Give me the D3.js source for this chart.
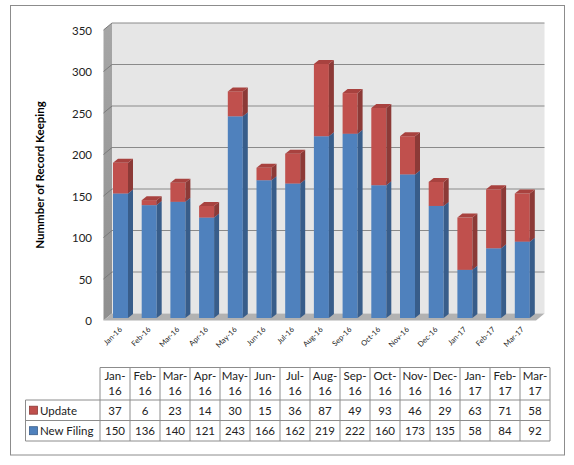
<!DOCTYPE html>
<html>
<head>
<meta charset="utf-8">
<script src="https://cdn.jsdelivr.net/npm/d3@7"></script>
<style>
  html, body { margin: 0; padding: 0; background: #fff; }
  svg { display: block; }
</style>
</head>
<body>
<div id="chart"></div>
<script>
(function () {
  'use strict';

  // ── Data ──────────────────────────────────────────────────────
  const months = ['Jan-16', 'Feb-16', 'Mar-16', 'Apr-16', 'May-16', 'Jun-16', 'Jul-16',
    'Aug-16', 'Sep-16', 'Oct-16', 'Nov-16', 'Dec-16', 'Jan-17', 'Feb-17', 'Mar-17'];
  const updateVals     = [37, 6, 23, 14, 30, 15, 36, 87, 49, 93, 46, 29, 63, 71, 58];
  const newFilingVals  = [150, 136, 140, 121, 243, 166, 162, 219, 222, 160, 173, 135, 58, 84, 92];
  const yTicks = [0, 50, 100, 150, 200, 250, 300, 350];
  const seriesNames = ['Update', 'New Filing'];

  // ── Palette ───────────────────────────────────────────────────
  const COLORS = {
    blue:  { front: '#4f81bd', side: '#385d8a', top: '#5b8cc6' },
    red:   { front: '#c0504d', side: '#8c3a37', top: '#a8423f' },
  };

  const W = 574, H = 465;
  const FONT = 'Lato, "Open Sans", sans-serif';

  const svg = d3.select('#chart').append('svg')
    .attr('width', W).attr('height', H);

  // outer frame
  svg.append('rect')
    .attr('x', 10.5).attr('y', 5.5).attr('width', 554).attr('height', 449.5)
    .attr('fill', '#fff').attr('stroke', '#8c8c8c').attr('stroke-width', 1);

  // ── Scales ────────────────────────────────────────────────────
  const DX = 8.5, DY = -7;                 // wall depth
  const BX = 5, BY = -4;                   // bar depth
  const frontL = 103.5, frontR = 536;
  const y = d3.scaleLinear().domain([0, 350]).range([320.5, 30]);
  const yBar = d3.scaleLinear().domain([0, 350]).range([318, 27.5]);
  const x = d3.scaleBand().domain(months).range([103, 533.5]);
  const barW = 15, barOff = 10;

  // ── Walls ─────────────────────────────────────────────────────
  const defs = svg.append('defs');
  const sg = defs.append('linearGradient').attr('id', 'sideGrad')
    .attr('x1', 0).attr('y1', 0).attr('x2', 0).attr('y2', 1);
  sg.append('stop').attr('offset', '0%').attr('stop-color', '#a6a6a6');
  sg.append('stop').attr('offset', '100%').attr('stop-color', '#8f8f8f');

  const wall = svg.append('g');
  // back wall
  wall.append('rect')
    .attr('x', frontL + DX).attr('y', y(350) + DY)
    .attr('width', frontR - frontL).attr('height', y(0) - y(350))
    .attr('fill', '#e6e6e6');
  // side wall
  wall.append('path')
    .attr('d', `M${frontL},${y(350)}L${frontL + DX},${y(350) + DY}L${frontL + DX},${y(0) + DY}L${frontL},${y(0)}Z`)
    .attr('fill', 'url(#sideGrad)');
  // floor
  wall.append('path')
    .attr('d', `M${frontL},${y(0)}L${frontR},${y(0)}L${frontR + DX},${y(0) + DY}L${frontL + DX},${y(0) + DY}Z`)
    .attr('fill', '#b2b2b2');

  // gridlines
  wall.selectAll('line.grid')
    .data(yTicks.filter(d => d > 0))
    .join('line')
    .attr('class', 'grid')
    .attr('x1', frontL + DX).attr('x2', frontR + DX)
    .attr('y1', d => y(d) + DY).attr('y2', d => y(d) + DY)
    .attr('stroke', '#8a8a8a').attr('stroke-width', 1);
  wall.selectAll('line.sgrid')
    .data(yTicks.filter(d => d > 0))
    .join('line')
    .attr('class', 'sgrid')
    .attr('x1', frontL).attr('x2', frontL + DX)
    .attr('y1', d => y(d)).attr('y2', d => y(d) + DY)
    .attr('stroke', '#7a7a7a').attr('stroke-width', 1);

  // ── Bars ──────────────────────────────────────────────────────
  const rows = months.map((m, i) => ({ month: m, newFiling: newFilingVals[i], update: updateVals[i] }));
  const stacked = d3.stack().keys(['newFiling', 'update'])(rows);
  const colorOf = { newFiling: COLORS.blue, update: COLORS.red };

  const bars = svg.append('g');
  months.forEach((m, i) => {
    const g = bars.append('g');
    stacked.forEach(s => {
      const c = colorOf[s.key];
      const seg = s[i];
      const x0 = x(m) + barOff, x1 = x0 + barW;
      const yt = yBar(seg[1]), yb = yBar(seg[0]);
      g.append('rect')
        .attr('x', x0).attr('y', yt).attr('width', barW).attr('height', yb - yt)
        .attr('fill', c.front);
      g.append('path')
        .attr('d', `M${x1},${yt}L${x1 + BX},${yt + BY}L${x1 + BX},${yb + BY}L${x1},${yb}Z`)
        .attr('fill', c.side);
      g.append('path')
        .attr('d', `M${x0},${yt}L${x0 + BX},${yt + BY}L${x1 + BX},${yt + BY}L${x1},${yt}Z`)
        .attr('fill', c.top);
    });
  });

  // ── Axes text ─────────────────────────────────────────────────
  svg.append('g').selectAll('text')
    .data(yTicks)
    .join('text')
    .attr('x', 92).attr('y', d => y(d) + 4.5)
    .attr('text-anchor', 'end')
    .attr('font-family', FONT).attr('font-size', '11.5px').attr('fill', '#222')
    .text(d => d);

  svg.append('g').selectAll('text')
    .data(months)
    .join('text')
    .attr('text-anchor', 'end')
    .attr('transform', d => `translate(${x(d) + barOff + barW / 2 + 2},${330}) rotate(-45)`)
    .attr('font-family', FONT).attr('font-size', '7.5px').attr('fill', '#222')
    .text(d => d);

  svg.append('text')
    .attr('transform', 'translate(44,175) rotate(-90)')
    .attr('text-anchor', 'middle')
    .attr('font-family', FONT).attr('font-size', '11.5px').attr('font-weight', 'bold')
    .attr('fill', '#000')
    .text('Nummber of Record Keeping');

  // ── Data table ────────────────────────────────────────────────
  const tx0 = 100, colW = 30, labL = 25.5;
  const rTop = 367.5, rHead = 400, rUpd = 420.5, rBot = 441;
  const tx = d3.scaleBand().domain(months).range([tx0, tx0 + colW * months.length]);
  const tbl = svg.append('g')
    .attr('font-family', FONT).attr('fill', '#222');

  const stroke = '#8c8c8c';
  const line = (x1, y1, x2, y2) => tbl.append('line')
    .attr('x1', x1).attr('y1', y1).attr('x2', x2).attr('y2', y2)
    .attr('stroke', stroke).attr('stroke-width', 1);

  const tRight = tx.range()[1];
  line(tx0, rTop, tRight, rTop);
  line(labL, rHead, tRight, rHead);
  line(labL, rUpd, tRight, rUpd);
  line(labL, rBot, tRight, rBot);
  line(labL, rHead, labL, rBot);
  months.forEach(m => line(tx(m), rTop, tx(m), rBot));
  line(tRight, rTop, tRight, rBot);

  tbl.selectAll('text.h1')
    .data(months).join('text')
    .attr('x', d => tx(d) + colW / 2).attr('y', 380)
    .attr('text-anchor', 'middle').attr('font-size', '11.5px')
    .text(d => d.split('-')[0] + '-');
  tbl.selectAll('text.h2')
    .data(months).join('text')
    .attr('class', 'h2')
    .attr('x', d => tx(d) + colW / 2).attr('y', 395)
    .attr('text-anchor', 'middle').attr('font-size', '11.5px')
    .text(d => d.split('-')[1]);

  const tableRows = [
    { name: seriesNames[0], vals: updateVals, c: COLORS.red, yb: 414.5, yc: 410.2 },
    { name: seriesNames[1], vals: newFilingVals, c: COLORS.blue, yb: 435, yc: 430.7 },
  ];
  tableRows.forEach(r => {
    tbl.append('rect')
      .attr('x', 29.5).attr('y', r.yc - 4).attr('width', 8).attr('height', 8)
      .attr('fill', r.c.front).attr('stroke', r.c.side).attr('stroke-width', 0.8);
    tbl.append('text')
      .attr('x', 40).attr('y', r.yb).attr('font-size', '11.5px')
      .text(r.name);
    tbl.append('g').selectAll('text')
      .data(r.vals).join('text')
      .attr('x', (d, i) => tx(months[i]) + colW / 2).attr('y', r.yb)
      .attr('text-anchor', 'middle').attr('font-size', '11.5px')
      .text(d => d);
  });
})();
</script>
</body>
</html>
